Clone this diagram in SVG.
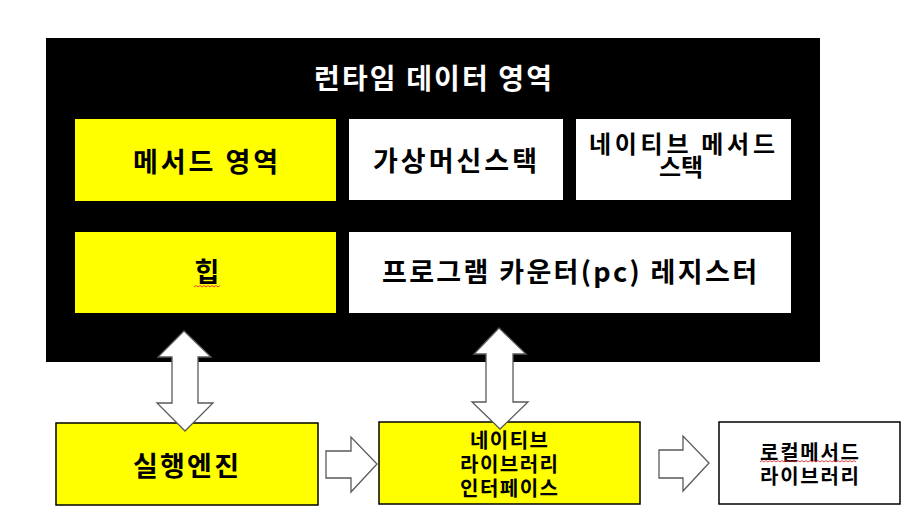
<svg xmlns="http://www.w3.org/2000/svg" width="908" height="519" viewBox="0 0 908 519">
<style>
  .t { font-family: "Noto Sans CJK KR", "Malgun Gothic", sans-serif; font-weight: bold; text-anchor: middle; fill: #000; }
  .w { fill: #fff; }
  .y { fill: #ffff00; }
  .wb { fill: #fff; }
  .box { stroke: #000; stroke-width: 1.5; }
  .arr { fill: #fff; stroke: #5a5a5a; stroke-width: 1.3; stroke-linejoin: miter; }
  .sq { fill: none; stroke: #e03030; stroke-width: 0.9; }
</style>
<rect width="908" height="519" fill="#fff"/>

<g id="runtime-data-area">
  <rect x="46" y="38" width="774" height="324" fill="#000"/>
  <text class="t w" x="433" y="89" font-size="28" textLength="238" lengthAdjust="spacing">런타임 데이터 영역</text>
</g>

<g id="method-area">
  <rect class="y" x="75" y="119" width="261" height="82"/>
  <text class="t" x="205.5" y="172" font-size="27" textLength="145" lengthAdjust="spacing">메서드 영역</text>
</g>

<g id="vm-stack">
  <rect class="wb" x="349" y="119" width="214" height="81"/>
  <text class="t" x="455" y="171" font-size="27" textLength="164" lengthAdjust="spacing">가상머신스택</text>
</g>

<g id="native-method-stack">
  <rect class="wb" x="576" y="119" width="215" height="81"/>
  <text class="t" x="682" y="153" font-size="24" textLength="186" lengthAdjust="spacing">네이티브 메서드</text>
  <text class="t" x="681" y="176" font-size="24" textLength="44" lengthAdjust="spacing">스택</text>
</g>

<g id="heap">
  <rect class="y" x="75" y="232" width="261" height="81"/>
  <text class="t" x="207" y="282" font-size="27">힙</text>
  <path class="sq" d="M194,287 l2,-1.5 l2,1.5 l2,-1.5 l2,1.5 l2,-1.5 l2,1.5 l2,-1.5 l2,1.5 l2,-1.5 l2,1.5 l2,-1.5 l2,1.5 l2,-1.5"/>
</g>

<g id="pc-register">
  <rect class="wb" x="349" y="232" width="442" height="81"/>
  <text class="t" x="569.5" y="282" font-size="27" textLength="375" lengthAdjust="spacing">프로그램 카운터(pc) 레지스터</text>
</g>

<g id="execution-engine">
  <rect class="y box" x="56" y="423" width="262" height="82"/>
  <text class="t" x="186" y="476" font-size="27" textLength="106" lengthAdjust="spacing">실행엔진</text>
</g>

<g id="native-interface">
  <rect class="y box" x="379" y="422" width="261" height="82"/>
  <text class="t" x="509" y="448" font-size="20" textLength="78" lengthAdjust="spacing">네이티브</text>
  <text class="t" x="509" y="472" font-size="20" textLength="98" lengthAdjust="spacing">라이브러리</text>
  <text class="t" x="509" y="496" font-size="20" textLength="98" lengthAdjust="spacing">인터페이스</text>
</g>

<g id="local-method-library">
  <rect class="wb box" x="719" y="422" width="181" height="82"/>
  <text class="t" x="809.5" y="460" font-size="20" textLength="99" lengthAdjust="spacing">로컬메서드</text>
  <path class="sq" d="M760,462 l2,-1.5 l2,1.5 l2,-1.5 l2,1.5 l2,-1.5 l2,1.5 l2,-1.5 l2,1.5 l2,-1.5 l2,1.5 l2,-1.5 l2,1.5 l2,-1.5 l2,1.5 l2,-1.5 l2,1.5 l2,-1.5 l2,1.5 l2,-1.5 l2,1.5 l2,-1.5 l2,1.5 l2,-1.5 l2,1.5 l2,-1.5 l2,1.5 l2,-1.5 l2,1.5 l2,-1.5 l2,1.5 l2,-1.5 l2,1.5 l2,-1.5 l2,1.5 l2,-1.5 l2,1.5 l2,-1.5 l2,1.5 l2,-1.5 l2,1.5 l2,-1.5 l2,1.5 l2,-1.5 l2,1.5 l2,-1.5 l2,1.5 l2,-1.5 l2,1.5"/>
  <text class="t" x="809.5" y="484" font-size="20" textLength="99" lengthAdjust="spacing">라이브러리</text>
</g>

<g id="connectors">
  <polygon class="arr" points="184,331 211,357 198,357 198,403 213,403 185,431 157,403 172,403 172,357 158,357"/>
  <polygon class="arr" points="499,328 526,354 513,354 513,402 528,402 500,429 472,402 486,402 486,354 474,354"/>
  <polygon class="arr" points="326,451 351,451 351,437 377,464 351,492 351,478 326,478"/>
  <polygon class="arr" points="659,450 683,450 683,436 709,463 683,491 683,478 659,478"/>
</g>
</svg>
